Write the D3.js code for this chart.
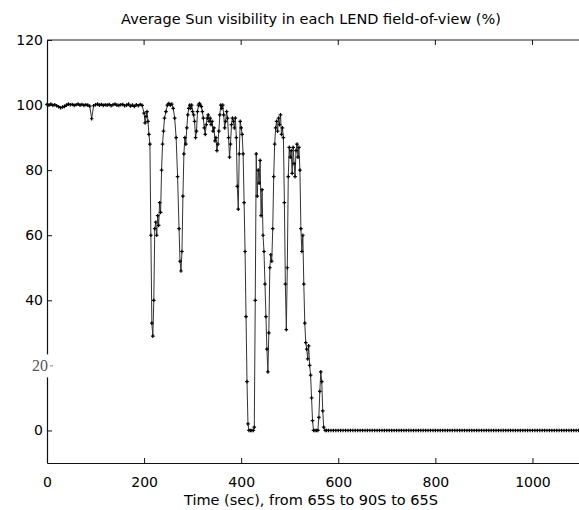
<!DOCTYPE html>
<html>
<head>
<meta charset="utf-8">
<script src="https://cdn.jsdelivr.net/npm/d3@7"></script>
<style>
  html, body { margin: 0; padding: 0; background: #fff; }
  svg { display: block; }
</style>
</head>
<body>
<script>
// ---- data ----
const title = "Average Sun visibility in each LEND field-of-view (%)";
const xLabel = "Time (sec), from 65S to 90S to 65S";
const xTicks = [0, 200, 400, 600, 800, 1000];
const yTicks = [0, 20, 40, 60, 80, 100, 120];

const timeSec = [
  0,4,8,12,16,20,24,28,32,36,40,44,48,52,56,60,64,68,72,76,80,84,88,92,96,
  100,104,108,112,116,120,124,128,132,136,140,144,148,152,156,160,164,168,172,176,180,184,188,192,196,
  200,202,204,206,208,210,212,214,216,218,220,222,224,226,228,230,232,234,236,238,240,242,245,248,251,254,257,260,263,266,269,
  272,274,276,278,280,282,284,286,288,
  290,292,294,296,298,300,302,304,306,308,310,312,314,316,318,320,322,324,326,328,330,332,334,336,338,340,
  342,344,346,348,350,352,354,356,358,360,362,364,366,368,370,372,374,376,378,380,382,384,386,388,390,
  392,394,396,398,400,402,404,406,408,410,412,414,416,419,422,425,427,
  429,431,433,435,437,439,441,443,445,447,449,451,453,455,457,459,461,463,465,467,469,471,473,475,477,479,
  481,483,485,487,489,491,493,495,497,499,501,503,505,507,509,511,513,515,517,519,521,523,525,527,529,531,
  533,535,537,539,541,543,545,547,549,552,555,558,560,562,564,566,568,570,573,576,580,
  585,590,595,600,605,610,615,620,625,630,635,640,645,650,655,660,665,670,675,680,685,690,695,700,
  705,710,715,720,725,730,735,740,745,750,755,760,765,770,775,780,785,790,795,800,
  805,810,815,820,825,830,835,840,845,850,855,860,865,870,875,880,885,890,895,900,
  905,910,915,920,925,930,935,940,945,950,955,960,965,970,975,980,985,990,995,1000,
  1005,1010,1015,1020,1025,1030,1035,1040,1045,1050,1055,1060,1065,1070,1075,1080,1085,1090,1095,1100
];

const visibility = [
  100.2,100.0,100.3,99.9,100.1,99.8,99.5,99.2,99.4,99.6,100.0,100.3,100.1,100.2,99.9,100.1,100.3,100.0,100.2,99.9,100.1,100.0,99.7,95.8,99.8,
  100.1,100.3,100.0,100.2,99.9,100.1,100.0,100.2,99.8,100.1,100.3,100.0,99.9,100.1,100.2,99.8,100.0,100.3,99.7,100.0,99.6,100.1,99.8,100.2,99.9,
  97.5,94.5,96.5,98,95,91,88,60,33,29,40,62,64,60,66,63,70,67,80,88,92,96,98,100,100.5,100,100.3,99,96,90,78,
  62,52,49,55,72,85,90,88,93,
  97,99,100,99,100,98,97,95,90,92,98,100,100.5,100,99.5,98,96,93,91,94,96,97,95,96,94,95,
  92,93,89,90,86,88,92,97,100,99,100,97,93,95,98,96,90,84,88,94,96,95,93,96,90,
  75,68,85,95,93,91,85,70,55,35,15,2,0,0,0,0,1,
  40,85,72,80,76,83,66,74,60,55,45,35,25,18,30,50,54,52,62,78,88,93,95,92,96,94,
  97,91,93,90,70,45,31,50,78,87,84,86,79,87,82,78,86,88,84,87,80,62,55,60,45,33,
  27,25,22,26,20,17,10,3,0,0,0,0,4,12,18,15,6,1,0,0,0,
  0,0,0,0,0,0,0,0,0,0,0,0,0,0,0,0,0,0,0,0,0,0,0,0,
  0,0,0,0,0,0,0,0,0,0,0,0,0,0,0,0,0,0,0,0,
  0,0,0,0,0,0,0,0,0,0,0,0,0,0,0,0,0,0,0,0,
  0,0,0,0,0,0,0,0,0,0,0,0,0,0,0,0,0,0,0,0,
  0,0,0,0,0,0,0,0,0,0,0,0,0,0,0,0,0,0,0,0
];

// ---- chart ----
const W = 579, H = 510;
const svg = d3.select("body").append("svg").attr("width", W).attr("height", H);

const x = d3.scaleLinear().domain([0, 1100]).range([47, 581]);
const y = d3.scaleLinear().domain([-10, 120]).range([463, 40]);
const FONT = "'DejaVu Sans', 'Liberation Sans', Arial, sans-serif";

// data line
const pts = timeSec.map((t, i) => [t, visibility[i]]);
const line = d3.line().x(d => x(d[0])).y(d => y(d[1]));
svg.append("path").datum(pts)
  .attr("d", line).attr("fill", "none")
  .attr("stroke", "#333").attr("stroke-width", 1);

svg.append("g").selectAll("path").data(pts).join("path")
  .attr("transform", d => `translate(${x(d[0])},${y(d[1])})`)
  .attr("d", "M-1.8,0h3.6M0,-1.8v3.6")
  .attr("stroke", "#000").attr("stroke-width", 1.2);

// bottom axis
const gx = svg.append("g").attr("transform", `translate(0,${y(-10)})`)
  .call(d3.axisBottom(x).tickValues(xTicks).tickSize(-5).tickSizeOuter(0).tickPadding(14).tickFormat(d3.format("d")));
// left axis
const gy = svg.append("g").attr("transform", `translate(${x(0)},0)`)
  .call(d3.axisLeft(y).tickValues(yTicks).tickSize(-5).tickSizeOuter(0).tickPadding(4).tickFormat(d3.format("d")));

[gx, gy].forEach(g => {
  g.select(".domain").attr("stroke", "#111").attr("stroke-width", 1.2);
  g.selectAll(".tick line").attr("stroke", "#111");
  g.selectAll("text").attr("font-family", FONT).attr("font-size", 14).attr("fill", "#000");
});

// top border with inward ticks
svg.append("line").attr("x1", x(0)).attr("x2", x(1100)).attr("y1", y(120)).attr("y2", y(120))
  .attr("stroke", "#222").attr("stroke-width", 1);
svg.append("g").selectAll("line").data(xTicks.slice(1)).join("line")
  .attr("x1", d => x(d)).attr("x2", d => x(d))
  .attr("y1", y(120)).attr("y2", y(120) + 5)
  .attr("stroke", "#111");

// pasted-over "20" label: gap in axis, serif grey text
const t20 = gy.selectAll(".tick").filter(d => d === 20);
gy.insert("rect", ".tick")
  .attr("x", -3).attr("width", 6)
  .attr("y", y(20) - 11).attr("height", 23)
  .attr("fill", "#fff");
t20.select("line").attr("stroke", "#888").attr("x1", 3).attr("x2", 6);
t20.select("text")
  .attr("font-family", "'Liberation Serif', 'DejaVu Serif', serif")
  .attr("font-size", 16).attr("fill", "#555").attr("x", 1);

// title and x label
svg.append("text").attr("x", 311).attr("y", 24).attr("text-anchor", "middle")
  .attr("font-family", FONT).attr("font-size", 14.5).attr("fill", "#000").text(title);
svg.append("text").attr("x", 311).attr("y", 505).attr("text-anchor", "middle")
  .attr("font-family", FONT).attr("font-size", 14.5).attr("fill", "#000").text(xLabel);
</script>
</body>
</html>
